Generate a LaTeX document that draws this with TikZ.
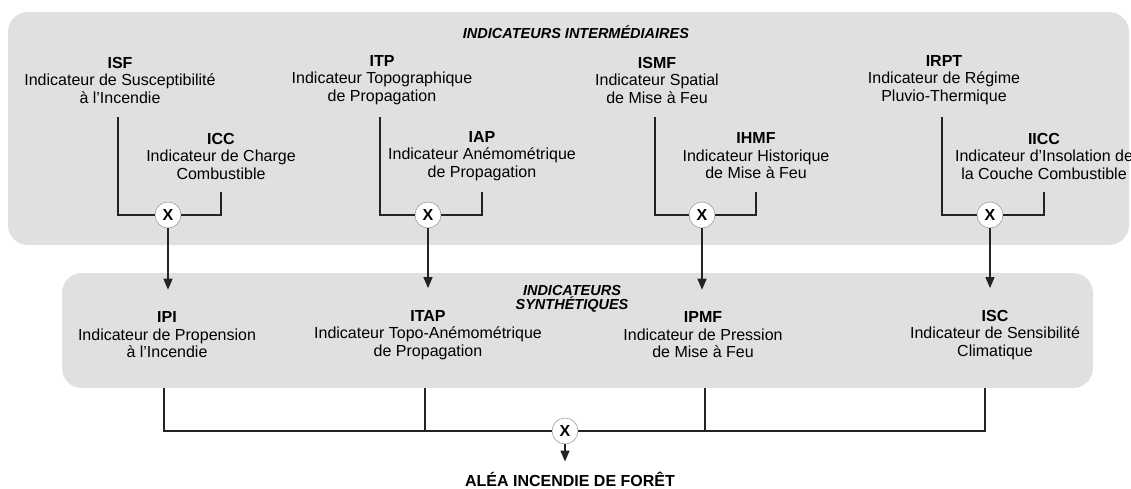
\documentclass[tikz,border=0pt]{standalone}
\usepackage{fontspec}
\setmainfont{Liberation Sans}
\usetikzlibrary{arrows.meta}
\definecolor{panelgray}{RGB}{224,224,224}
\definecolor{wirecol}{RGB}{35,35,35}
\tikzset{
  panel/.style={fill=panelgray, draw=none, rounded corners=20pt, inner sep=0pt},
  ind/.style={align=center, inner sep=0pt, font=\fontsize{16}{17.5}\selectfont},
  heading/.style={align=center, inner sep=0pt, font=\fontsize{14.5}{14.5}\selectfont\bfseries\itshape},
  mult/.style={circle, draw=gray!75, line width=0.6pt, fill=white, minimum size=26pt, inner sep=0pt, font=\fontsize{16}{16}\selectfont\bfseries},
  wire/.style={draw=wirecol, line width=1.4pt},
  arr/.style={wire, -{Triangle[width=9pt,length=11pt]}}
}
\begin{document}
\begin{tikzpicture}[x=1pt,y=-1pt]
\useasboundingbox (0,0) rectangle (1131,488);
\node[panel, minimum width=1121pt, minimum height=233pt] (inter) at (568.5,128.5) {};
\node[panel, minimum width=1031pt, minimum height=115pt] (synth) at (577.5,330.5) {};
\node[heading] (tinter) at (576,32) {INDICATEURS INTERMÉDIAIRES};
\node[heading] (tsynth) at (572,299) {INDICATEURS\\SYNTHÉTIQUES};
\node[ind] (isf) at (120,80) {\textbf{ISF}\\Indicateur de Susceptibilité\\à l’Incendie};
\node[ind] (icc) at (221,156) {\textbf{ICC}\\Indicateur de Charge\\Combustible};
\node[ind] (itp) at (382,80) {\textbf{ITP}\\Indicateur Topographique\\de Propagation};
\node[ind] (iap) at (482,156) {\textbf{IAP}\\Indicateur Anémométrique\\de Propagation};
\node[ind] (ismf) at (657,80) {\textbf{ISMF}\\Indicateur Spatial\\de Mise à Feu};
\node[ind] (ihmf) at (756,156) {\textbf{IHMF}\\Indicateur Historique\\de Mise à Feu};
\node[ind] (irpt) at (944,80) {\textbf{IRPT}\\Indicateur de Régime\\Pluvio-Thermique};
\node[ind] (iicc) at (1044,156) {\textbf{IICC}\\Indicateur d’Insolation de\\la Couche Combustible};
\node[mult] (m1) at (168,215) {X};
\node[mult] (m2) at (428,215) {X};
\node[mult] (m3) at (702,215) {X};
\node[mult] (m4) at (990,215) {X};
\node[ind] (ipi) at (167,335) {\textbf{IPI}\\Indicateur de Propension\\à l’Incendie};
\node[ind] (itap) at (428,335) {\textbf{ITAP}\\Indicateur Topo-Anémométrique\\de Propagation};
\node[ind] (ipmf) at (703,335) {\textbf{IPMF}\\Indicateur de Pression\\de Mise à Feu};
\node[ind] (isc) at (995,335) {\textbf{ISC}\\Indicateur de Sensibilité\\Climatique};
\node[mult] (mall) at (565,431) {X};
\node[ind, font=\fontsize{16}{17.5}\selectfont\bfseries] (alea) at (570,479) {ALÉA INCENDIE DE FORÊT};
\foreach \a/\b/\m in {isf/icc/m1, itp/iap/m2, ismf/ihmf/m3, irpt/iicc/m4}{
  \draw[wire] ([xshift=-2pt,yshift=-37pt]\a.center) |- (\m);
  \draw[wire] ([yshift=-36pt]\b.center) |- (\m);
}
\draw[arr, shorten >=22pt] (m1) -- (m1 |- ipi.north);
\draw[arr, shorten >=22pt] (m2) -- (m2 |- itap.north);
\draw[arr, shorten >=22pt] (m3) -- (m3 |- ipmf.north);
\draw[arr, shorten >=22pt] (m4) -- (m4 |- isc.north);
\draw[wire] ([xshift=-3pt]ipi |- synth.south) |- (mall);
\draw[wire] ([xshift=-3pt]itap |- synth.south) -- ([xshift=-3pt]itap |- mall);
\draw[wire] ([xshift=2pt]ipmf |- synth.south) -- ([xshift=2pt]ipmf |- mall);
\draw[wire] ([xshift=-10pt]isc |- synth.south) |- (mall);
\draw[arr, shorten >=10pt] (mall) -- (mall |- alea.north);
\end{tikzpicture}
\end{document}
